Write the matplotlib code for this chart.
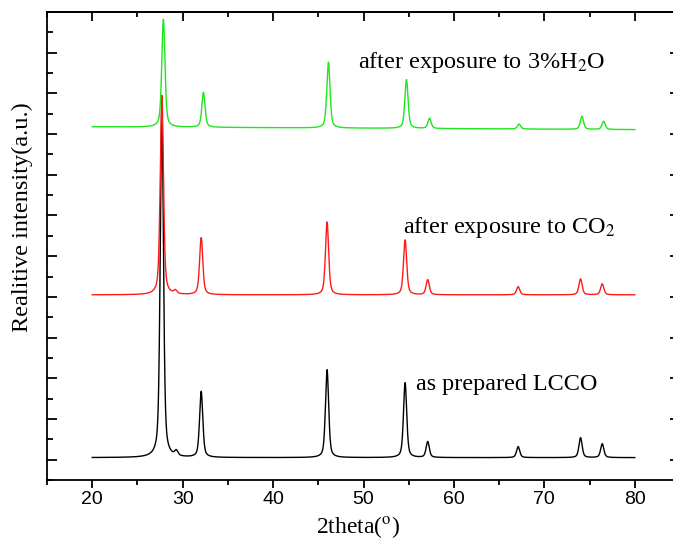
import numpy as np
import matplotlib
matplotlib.use("Agg")
import matplotlib.pyplot as plt
from matplotlib.ticker import MultipleLocator, NullFormatter

# ---- data (peak positions in 2theta, heights in a.u.) ----
series_names = ["as prepared LCCO", "after exposure to CO$_2$", "after exposure to 3%H$_2$O"]
series_colors = ["#000000", "#ff1a1a", "#1fe61f"]

black_baseline = [0.05, 0.05]          # at 20 deg, at 80 deg
black_pos = [27.7, 29.3, 32.05, 45.97, 54.6, 57.1, 67.1, 74.0, 76.4]
black_hgt = [8.6, 0.12, 1.62, 2.16, 1.84, 0.39, 0.27, 0.49, 0.34]

red_baseline = [4.05, 4.05]
red_pos = [27.7, 29.2, 32.05, 45.97, 54.6, 57.1, 67.1, 74.0, 76.4]
red_hgt = [4.9, 0.08, 1.40, 1.79, 1.35, 0.37, 0.20, 0.39, 0.27]

green_baseline = [8.18, 8.11]
green_pos = [27.87, 32.3, 46.12, 54.75, 57.3, 67.2, 74.15, 76.55]
green_hgt = [2.65, 0.86, 1.62, 1.20, 0.25, 0.12, 0.32, 0.20]

peak_fwhm = 0.42
x_range = [20, 80]

plt.rcParams["font.family"] = ["Liberation Serif", "DejaVu Serif"]
plt.rcParams["mathtext.fontset"] = "stix"

def profile(x, base, pos, hgt):
    y = np.interp(x, x_range, base)
    g = peak_fwhm / 2
    for p, h in zip(pos, hgt):
        lor = 1.0 / (1.0 + ((x - p) / g) ** 2)
        gau = np.exp(-np.log(2) * ((x - p) / g) ** 2)
        y = y + h * (0.5 * lor + 0.5 * gau)
    return y

x = np.linspace(x_range[0], x_range[1], 6001)

fig = plt.figure(figsize=(6.73, 5.40), dpi=100)
ax = fig.add_axes([47 / 673, 60 / 540, 633 / 673, 468 / 540])

ax.plot(x, profile(x, black_baseline, black_pos, black_hgt), color=series_colors[0], lw=1.0)
ax.plot(x, profile(x, red_baseline, red_pos, red_hgt), color=series_colors[1], lw=1.0)
ax.plot(x, profile(x, green_baseline, green_pos, green_hgt), color=series_colors[2], lw=1.0)

ax.set_xlim(15, 85)
ax.set_ylim(-0.5, 11.0)

ax.xaxis.set_major_locator(MultipleLocator(10))
ax.xaxis.set_minor_locator(MultipleLocator(5))
ax.yaxis.set_major_locator(MultipleLocator(1))
ax.yaxis.set_minor_locator(MultipleLocator(0.5))
ax.yaxis.set_major_formatter(NullFormatter())

for s in ax.spines.values():
    s.set_linewidth(1.3)
ax.spines["right"].set_visible(False)

ax.tick_params(axis="x", which="both", bottom=True, top=False, direction="out", width=1.3,
               labelsize=14, labelfontfamily="Liberation Sans", pad=2)
ax.tick_params(axis="x", which="major", length=6)
ax.tick_params(axis="x", which="minor", length=3.5)

top = ax.secondary_xaxis("top")
top.xaxis.set_major_locator(MultipleLocator(10))
top.xaxis.set_minor_locator(MultipleLocator(5))
top.xaxis.set_major_formatter(NullFormatter())
top.spines["top"].set_linewidth(1.3)
top.tick_params(axis="x", which="both", direction="in", width=1.3)
top.tick_params(axis="x", which="major", length=6.5)
top.tick_params(axis="x", which="minor", length=3.5)

ax.tick_params(axis="y", which="both", left=True, right=True, direction="in", width=1.3)
ax.tick_params(axis="y", which="major", length=7)
ax.tick_params(axis="y", which="minor", length=4.5, right=False)

ax.text(49.4, 9.63, series_names[2], fontsize=17.5, ha="left", va="baseline")
ax.text(54.4, 5.58, series_names[1], fontsize=17.4, ha="left", va="baseline")
ax.text(55.8, 1.70, series_names[0], fontsize=17.4, ha="left", va="baseline")

fig.text(358 / 673, 1 - 527 / 540, "2theta($^{\\mathrm{o}}$)", fontsize=17, ha="center", va="center")
fig.text(22 / 673, 1 - 217 / 540, "Realitive intensity(a.u.)", fontsize=17.5, rotation=90,
         ha="center", va="center")

fig.savefig("out.png", dpi=100)
